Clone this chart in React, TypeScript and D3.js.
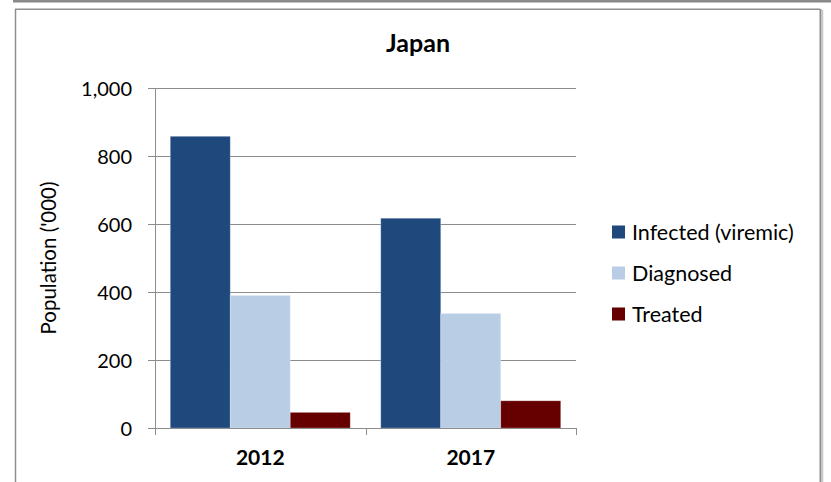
import React from "react";
import * as d3 from "d3";

const categories = ["2012", "2017"];
const seriesNames = ["Infected (viremic)", "Diagnosed", "Treated"];
const infected = [858, 617];
const diagnosed = [390, 337];
const treated = [46, 80];
const yTicks = [0, 200, 400, 600, 800, 1000];
const colors = ["#1F497D", "#B9CDE5", "#660000"];

const W = 831;
const H = 482;
const FONT = "Lato, 'Open Sans', sans-serif";

export default function App() {
  const seriesValues = [infected, diagnosed, treated];
  const x0 = d3.scaleBand<string>().domain(categories).range([155, 576]).paddingInner(0.145).paddingOuter(0.0725);
  const x1 = d3.scaleBand<string>().domain(seriesNames).range([0, x0.bandwidth()]);
  const y = d3.scaleLinear().domain([0, 1000]).range([428, 88]);
  const fmt = d3.format(",");
  const grid = "#8c8c8c";
  const [xMin, xMax] = x0.range();

  return (
    <div style={{ position: "absolute", left: 0, top: 0 }}>
      <svg width={W} height={H} style={{ display: "block", fontFamily: FONT }}>
        <rect x={0} y={0} width={W} height={H} fill="#fff" />
        {/* outer frame */}
        <rect x={13} y={0} width={W - 13} height={2.5} fill="#8a8a8a" />
        <line x1={15.5} y1={9} x2={15.5} y2={H} stroke="#8f8f8f" strokeWidth={1.5} />
        <line x1={15} y1={9.2} x2={820} y2={9.2} stroke="#8f8f8f" strokeWidth={1.5} />
        <line x1={820.5} y1={9} x2={820.5} y2={H} stroke="#8f8f8f" strokeWidth={2} />
        <line x1={822.5} y1={10} x2={822.5} y2={H} stroke="#c8c8c8" strokeWidth={1.5} />

        {/* title */}
        <text x={418} y={52} textAnchor="middle" fontWeight="bold" fontSize={25} fill="#000">
          Japan
        </text>

        {/* gridlines */}
        {yTicks.map((t) => (
          <g key={t}>
            <line x1={xMin - 7} x2={xMax} y1={Math.round(y(t)) + 0.5} y2={Math.round(y(t)) + 0.5} stroke={grid} strokeWidth={1} />
            <text x={132} y={y(t)} textAnchor="end" dominantBaseline="central" fontSize={20} fill="#000">
              {fmt(t)}
            </text>
          </g>
        ))}

        {/* bars */}
        {categories.map((c, ci) => (
          <g key={c} transform={`translate(${x0(c)},0)`}>
            {seriesNames.map((s, si) => {
              const v = seriesValues[si][ci];
              return (
                <rect
                  key={s}
                  x={x1(s)}
                  y={y(v)}
                  width={x1.bandwidth()}
                  height={y(0) - y(v)}
                  fill={colors[si]}
                  stroke="#ffffff"
                  strokeOpacity={0.35}
                  strokeWidth={0.75}
                />
              );
            })}
          </g>
        ))}

        {/* axes */}
        <line x1={xMin + 0.5} x2={xMin + 0.5} y1={y(1000)} y2={y(0)} stroke={grid} />
        <line x1={xMin} x2={xMax} y1={Math.round(y(0)) + 0.5} y2={Math.round(y(0)) + 0.5} stroke={grid} />
        {[xMin, xMin + x0.step(), xMax].map((xv, i) => (
          <line key={i} x1={Math.round(xv) + 0.5} x2={Math.round(xv) + 0.5} y1={y(0)} y2={y(0) + 7} stroke={grid} />
        ))}
        {categories.map((c) => (
          <text key={c} x={(x0(c) as number) + x0.bandwidth() / 2} y={465} textAnchor="middle" fontWeight="bold" fontSize={21} fill="#000">
            {c}
          </text>
        ))}

        {/* y label */}
        <text transform="translate(48,258) rotate(-90)" textAnchor="middle" dominantBaseline="central" fontSize={20.5} fill="#000">
          Population ('000)
        </text>

        {/* legend */}
        {seriesNames.map((s, i) => {
          const cy = 232 + i * 41;
          return (
            <g key={s}>
              <rect x={612} y={cy - 6.5} width={13} height={13} fill={colors[i]} />
              <text x={632} y={cy} dominantBaseline="central" fontSize={21.5} fill="#000">
                {s}
              </text>
            </g>
          );
        })}
      </svg>
    </div>
  );
}
